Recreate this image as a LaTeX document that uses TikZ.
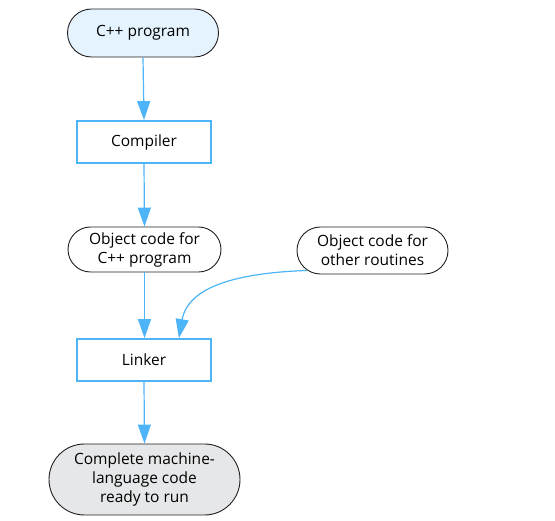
\documentclass[tikz,border=0pt]{standalone}
\usepackage{fontspec}
\setmainfont{Open Sans}
\usetikzlibrary{arrows.meta,shapes.misc,calc}
\definecolor{flowblue}{HTML}{4DB4F7}
\definecolor{startfill}{HTML}{E4F3FD}
\definecolor{endfill}{HTML}{E6E7E8}
\definecolor{outline}{HTML}{231F20}
\begin{document}
\begin{tikzpicture}[x=1pt,y=-1pt,
  txt/.style={font=\fontsize{15.5}{19}\selectfont, align=center, text=black},
  term/.style={txt, rounded rectangle, draw=outline, line width=0.9pt, inner sep=0pt},
  proc/.style={txt, rectangle, draw=flowblue, line width=1.8pt, inner sep=0pt, fill=white},
  flow/.style={draw=flowblue, line width=1.2pt, -{Triangle[length=19pt,width=13pt]}}]
\useasboundingbox (0,0) rectangle (555,521);
\node[term, fill=startfill, minimum width=151pt, minimum height=48pt] (src) at (143,33) {C++ program};
\node[proc, minimum width=134pt, minimum height=42pt] (comp) at (144,142) {Compiler};
\node[term, fill=white, minimum width=153pt, minimum height=45pt] (obj) at (144.5,249.5) {Object code for\\C++ program};
\node[term, fill=white, minimum width=151pt, minimum height=47pt] (oth) at (372.5,250.5) {Object code for\\other routines};
\node[proc, minimum width=134pt, minimum height=42pt] (link) at (144,360) {Linker};
\node[term, fill=endfill, minimum width=191pt, minimum height=71pt] (exe) at (144.5,479.5) {Complete machine-\\language code\\ready to run};
\draw[flow] (src.south) -- (comp.north);
\draw[flow] (comp.south) -- (obj.north);
\draw[flow] (obj.south) -- (obj.south |- link.north);
\draw[flow] (oth.197) to[out=182,in=80] ([xshift=-33pt]link.north east);
\draw[flow] (link.south) -- (exe.north);
\end{tikzpicture}
\end{document}
